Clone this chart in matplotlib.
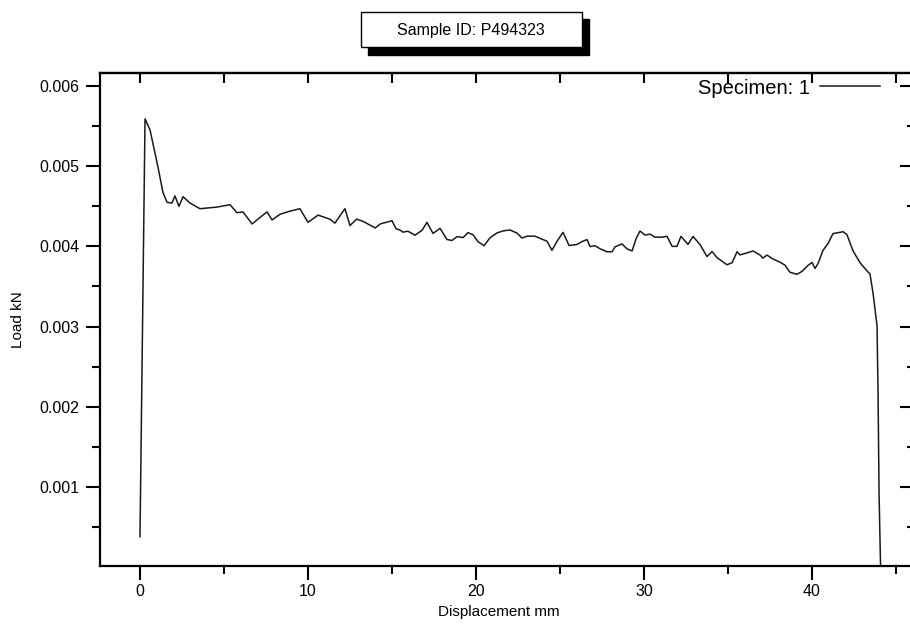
import matplotlib
matplotlib.use("Agg")
import matplotlib.pyplot as plt
from matplotlib.patches import Rectangle
from matplotlib.ticker import FixedLocator, NullFormatter

plt.rcParams['font.family'] = ['Liberation Sans', 'DejaVu Sans']

# ---- data ----
displacement = [0.00, 0.30, 0.60, 1.07, 1.37, 1.61, 1.90, 2.08, 2.32, 2.56, 2.98, 3.57,
                4.58, 5.36, 5.77, 6.13, 6.67, 7.14, 7.56, 7.86, 8.33, 8.93, 9.52, 10.00,
                10.60, 11.30, 11.60, 12.20, 12.50, 12.90, 13.30, 14.00, 14.30, 15.00, 15.24,
                15.48, 15.65, 15.95, 16.37, 16.79, 17.08, 17.44, 17.86, 18.27, 18.57, 18.87,
                19.23, 19.52, 19.82, 20.12, 20.48, 20.83, 21.25, 21.61, 22.02, 22.44, 22.74,
                23.04, 23.51, 23.93, 24.23, 24.52, 24.82, 25.18, 25.54, 26.01, 26.31, 26.61,
                26.79, 27.08, 27.38, 27.80, 28.10, 28.27, 28.69, 28.99, 29.29, 29.52, 29.76,
                30.06, 30.36, 30.65, 31.07, 31.37, 31.67, 31.96, 32.20, 32.62, 32.92, 33.33,
                33.75, 34.05, 34.35, 34.94, 35.24, 35.54, 35.71, 36.13, 36.49, 36.90, 37.08,
                37.32, 37.68, 38.10, 38.39, 38.69, 39.11, 39.40, 39.76, 40.00, 40.18, 40.36,
                40.65, 40.95, 41.25, 41.55, 41.85, 42.08, 42.44, 42.86, 43.27, 43.45, 43.63,
                43.87, 43.93, 43.99, 44.08]
load = [0.00038, 0.00559, 0.00545, 0.00499, 0.00467, 0.00455, 0.00454, 0.00463, 0.00450,
        0.00462, 0.00454, 0.00447, 0.00449, 0.00452, 0.00442, 0.00443, 0.00428, 0.00436,
        0.00443, 0.00433, 0.00440, 0.00444, 0.00447, 0.00430, 0.00439, 0.00434, 0.00429,
        0.00447, 0.00426, 0.00434, 0.00431, 0.00423, 0.00428, 0.00432, 0.00422,
        0.004203, 0.004178, 0.004189, 0.004140, 0.004201, 0.004300, 0.004162, 0.004225,
        0.004086, 0.004074, 0.004122, 0.004110, 0.004171, 0.004146, 0.004059, 0.004008,
        0.004107, 0.004168, 0.004193, 0.004205, 0.004166, 0.004104, 0.004128, 0.004127,
        0.004090, 0.004064, 0.003951, 0.004063, 0.004175, 0.004011, 0.004024, 0.004060,
        0.004085, 0.003997, 0.004009, 0.003971, 0.003933, 0.003933, 0.003994, 0.004031,
        0.003969, 0.003943, 0.004092, 0.004192, 0.004141, 0.004153, 0.004115, 0.004115,
        0.004126, 0.004001, 0.004000, 0.004125, 0.004025, 0.004124, 0.004024, 0.003873,
        0.003935, 0.003859, 0.003771, 0.003796, 0.003933, 0.003894, 0.003919, 0.003943,
        0.003893, 0.003854, 0.003892, 0.003842, 0.003803, 0.003766, 0.003677, 0.003652,
        0.003688, 0.003763, 0.003800, 0.003725, 0.003787, 0.003949, 0.004035, 0.004160,
        0.004171, 0.004183, 0.004146, 0.003945, 0.003796, 0.003695, 0.003657, 0.003420,
        0.003008, 0.002172, 0.000925, 0.0]

x_major = [0, 10, 20, 30, 40]
x_minor = [5, 15, 25, 35, 45]
x_top = [0, 5, 10, 15, 20, 25, 30, 35, 40, 45]
y_major = [0.001, 0.002, 0.003, 0.004, 0.005, 0.006]
y_minor = [0.0005, 0.0015, 0.0025, 0.0035, 0.0045, 0.0055]
y_labels = ['0.001', '0.002', '0.003', '0.004', '0.005', '0.006']

title_text = "Sample ID: P494323"
series_label = "Specimen: 1"

W, H = 910, 629
fig = plt.figure(figsize=(W / 100, H / 100), dpi=100)

def fx(px):
    return px / W

def fy(py):
    return 1 - py / H

ax = fig.add_axes([fx(100), fy(566), fx(914) - fx(100), fy(73) - fy(566)])
ax.plot(displacement, load, color='#1a1a1a', lw=1.1, label=series_label)

ax.set_xlim(-2.38, 46.07)
ax.set_ylim(0.000015, 0.006162)

for s in ax.spines.values():
    s.set_linewidth(1.6)

ax.xaxis.set_major_locator(FixedLocator(x_major))
ax.xaxis.set_minor_locator(FixedLocator(x_minor))
ax.yaxis.set_major_locator(FixedLocator(y_major))
ax.yaxis.set_minor_locator(FixedLocator(y_minor))
ax.set_yticklabels(y_labels)
ax.tick_params(axis='both', which='major', direction='out', length=10, width=1.5,
               labelsize=11.5, top=False, right=False)
ax.tick_params(axis='both', which='minor', direction='out', length=6, width=1.5,
               top=False, right=False)
ax.tick_params(axis='x', which='major', pad=3)
ax.tick_params(axis='y', which='major', pad=5)

# top ticks (inward)
sec_top = ax.secondary_xaxis('top')
sec_top.xaxis.set_major_locator(FixedLocator(x_top))
sec_top.xaxis.set_major_formatter(NullFormatter())
sec_top.tick_params(direction='in', length=7, width=1.5)
sec_top.spines['top'].set_linewidth(1.6)

# right ticks (inward)
sec_right = ax.secondary_yaxis('right')
sec_right.yaxis.set_major_locator(FixedLocator(y_major))
sec_right.yaxis.set_minor_locator(FixedLocator(y_minor))
sec_right.yaxis.set_major_formatter(NullFormatter())
sec_right.tick_params(which='major', direction='in', length=10, width=1.5)
sec_right.tick_params(which='minor', direction='in', length=5, width=1.5)

ax.set_xlabel("Displacement mm", fontsize=11)
ax.set_ylabel("Load kN", fontsize=11)
ax.xaxis.set_label_coords((499 - 100) / 814, -(612 - 566) / 493, transform=ax.transAxes)
ax.yaxis.set_label_coords(-(100 - 18) / 814, 0.5, transform=ax.transAxes)
ax.xaxis.label.set_verticalalignment('center')
ax.yaxis.label.set_verticalalignment('center')

ax.legend(loc='center right', bbox_to_anchor=(fx(880), fy(88)), bbox_transform=fig.transFigure,
          frameon=False, markerfirst=False, fontsize=14.5, handlelength=3.0,
          handletextpad=0.5, borderpad=0, borderaxespad=0)

# title box with shadow
fig.patches.append(Rectangle((fx(368), fy(55)), fx(589) - fx(368), fy(19) - fy(55),
                             transform=fig.transFigure, facecolor='black', edgecolor='black',
                             zorder=5))
fig.patches.append(Rectangle((fx(361), fy(47)), fx(582) - fx(361), fy(12) - fy(47),
                             transform=fig.transFigure, facecolor='white', edgecolor='black',
                             lw=1.0, zorder=6))
fig.text(fx(471), fy(30), title_text, ha='center', va='center', fontsize=11.5, zorder=7)

fig.savefig("out.png", dpi=100)
